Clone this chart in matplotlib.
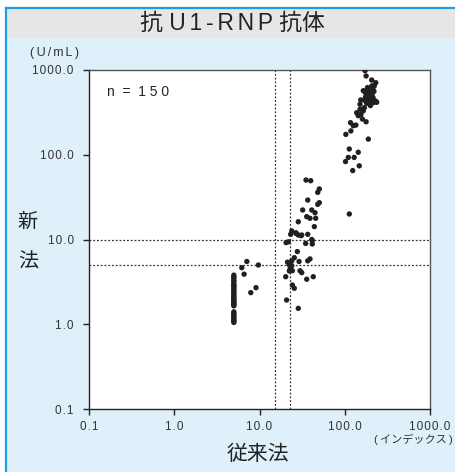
import matplotlib
matplotlib.use("Agg")
import matplotlib.pyplot as plt
from matplotlib.patches import Rectangle
from matplotlib.lines import Line2D

plt.rcParams['font.family'] = ['Liberation Sans', 'DejaVu Sans', 'Noto Sans CJK JP']

# ---- data (conventional index, new method U/mL) ----
left_x = [7.1, 6.2, 9.7, 6.6, 9.1, 7.9]
left_y = [5.5, 4.65, 5.0, 3.9, 2.7, 2.36]

col_y = [3.8, 3.6, 3.5, 3.3, 3.2, 3.0, 2.9, 2.8, 2.7, 2.6, 2.5, 2.4, 2.3, 2.2,
         2.1, 2.0, 2.0, 1.9, 1.85, 1.8, 1.75, 1.7, 1.65, 1.4, 1.35, 1.3, 1.25,
         1.2, 1.15, 1.1, 1.1, 1.05]
col_x = [5.0] * len(col_y)

mid_x = [35.1, 39.9, 50.3, 48.2, 36.8, 50.3, 48.2, 32.1, 41.0, 44.8, 35.8, 39.1,
         45.6, 28.5, 44.0,
         23.9, 23.2, 26.8, 28.5, 30.7, 36.8, 41.0, 21.8, 20.5, 34.8, 41.6, 41.6,
         26.8, 31.3,
         27.8, 25.6, 23.9, 21.3, 29.1, 36.8, 39.1, 22.4, 23.5, 23.2, 22.8, 24.3,
         29.9, 31.3, 20.3, 35.8, 42.7, 24.3, 25.6, 20.8, 28.5, 22.4, 23.9]
mid_y = [50.3, 49.4, 39.5, 36.0, 29.2, 27.2, 26.0, 22.3, 22.3, 20.7, 18.6, 17.8,
         17.8, 16.2, 14.2,
         12.6, 11.5, 11.8, 11.3, 11.1, 11.5, 10.0, 9.4, 9.2, 9.0, 9.7, 8.85,
         12.0, 11.3,
         7.2, 6.1, 5.6, 5.4, 5.5, 5.6, 5.9, 5.0, 4.9, 4.37, 4.45, 4.28,
         4.28, 4.06, 3.64, 3.4, 3.64, 2.9, 2.66, 1.93, 1.54, 4.25, 4.9]

right_x = [173, 178, 207, 231, 222, 213, 165, 184, 194, 181, 202, 184, 154, 198,
           213, 237, 181, 151, 170, 151, 138, 155, 144, 161, 178, 117, 126, 135,
           118, 103, 189, 113, 144, 110, 129, 102, 148, 124, 113,
           190, 200, 210, 215, 190, 205, 225, 195, 175, 185, 220, 170, 200, 165,
           230, 208, 190, 175]
right_y = [981, 850, 762, 708, 647, 608, 570, 597, 531, 507, 484, 464, 443, 434,
           411, 416, 405, 394, 359, 344, 313, 300, 289, 264, 245, 239, 220, 224,
           191, 174, 153, 117, 107, 93, 93, 83, 74, 65, 20,
           560, 600, 520, 470, 450, 440, 420, 400, 480, 620, 560, 440, 380, 330,
           430, 650, 500, 540]

xs = left_x + col_x + mid_x + right_x
ys = left_y + col_y + mid_y + right_y

cutoff_x = [15, 23]
cutoff_y = [10, 5]
ticks = [0.1, 1, 10, 100, 1000]
tick_labels = ["0.1", "1.0", "10.0", "100.0", "1000.0"]

HS = "\u200a"  # hair space for letter spacing


def spaced(s, n=1):
    return (HS * n).join(s)


W, H = 455, 472
fig = plt.figure(figsize=(W / 100, H / 100), dpi=100)
fig.patch.set_facecolor('white')

# background panel
fig.patches.append(Rectangle((6 / W, 0), 1 - 6 / W, 1 - 8 / H, transform=fig.transFigure,
                             facecolor='#dff0fb', edgecolor='none', zorder=-2))
fig.patches.append(Rectangle((6 / W, 1 - 38 / H), 1 - 6 / W, 30 / H, transform=fig.transFigure,
                             facecolor='#e6e6e6', edgecolor='none', zorder=-2))
fig.lines.append(Line2D([6 / W, 6 / W], [0, 1 - 8 / H], transform=fig.transFigure,
                        color='#1a9fe3', lw=1.6, zorder=-1))
fig.lines.append(Line2D([6 / W, 1], [1 - 8 / H, 1 - 8 / H], transform=fig.transFigure,
                        color='#1a9fe3', lw=1.6, zorder=-1))

ax = fig.add_axes([89 / W, 1 - 409 / H, (430 - 89) / W, (409 - 70) / H])
ax.set_zorder(2)
ax.set_facecolor('white')
ax.set_xscale('log')
ax.set_yscale('log')
ax.set_xlim(0.1, 1000)
ax.set_ylim(0.1, 1000)

for v in cutoff_x:
    ax.axvline(v, color='#333333', lw=0.9, ls=(0, (1.5, 1.5)), zorder=1)
for v in cutoff_y:
    ax.axhline(v, color='#333333', lw=0.9, ls=(0, (1.5, 1.5)), zorder=1)

ax.scatter(xs, ys, s=15, color='#231f20', edgecolors='none', zorder=3)

ax.set_xticks(ticks)
ax.set_yticks(ticks)
ax.set_xticklabels([spaced(t) for t in tick_labels])
ax.set_yticklabels([spaced(t) for t in tick_labels])
ax.minorticks_off()
ax.tick_params(axis='both', which='major', direction='out', length=4, width=1,
               labelsize=8.5, labelcolor='#333333', color='#222222')
ax.tick_params(axis='y', pad=7)
ax.tick_params(axis='x', pad=5)
ax.spines['left'].set_color('#222222')
ax.spines['bottom'].set_color('#222222')
ax.spines['top'].set_color('#555555')
ax.spines['right'].set_color('#555555')
for s in ax.spines.values():
    s.set_linewidth(1.0)

ax.text(0.053, 0.935, "n  =  " + " ".join("150"), transform=ax.transAxes, fontsize=10,
        color='#222222', ha='left', va='center')

fig.text(232 / W, 1 - 23 / H, "抗 " + spaced("U1-RNP", 2) + " 抗体", fontsize=16.5,
         color='#222222', ha='center', va='center')
fig.text(55 / W, 1 - 53 / H, "(\u2009" + spaced("U/mL", 2) + "\u2009)", fontsize=9,
         color='#333333', ha='center', va='center')
fig.text(28 / W, 1 - 222 / H, "新", fontsize=14.5, color='#222222', ha='center', va='center')
fig.text(28 / W, 1 - 262 / H, "法", fontsize=14.5, color='#222222', ha='center', va='center')
fig.text(258 / W, 1 - 454 / H, "従来法", fontsize=15, color='#222222', ha='center', va='center')
fig.text(453 / W, 1 - 439 / H, "(\u2009インデックス\u2009)", fontsize=8, color='#333333',
         ha='right', va='center')

fig.savefig("out.png", dpi=100, facecolor=fig.get_facecolor())
